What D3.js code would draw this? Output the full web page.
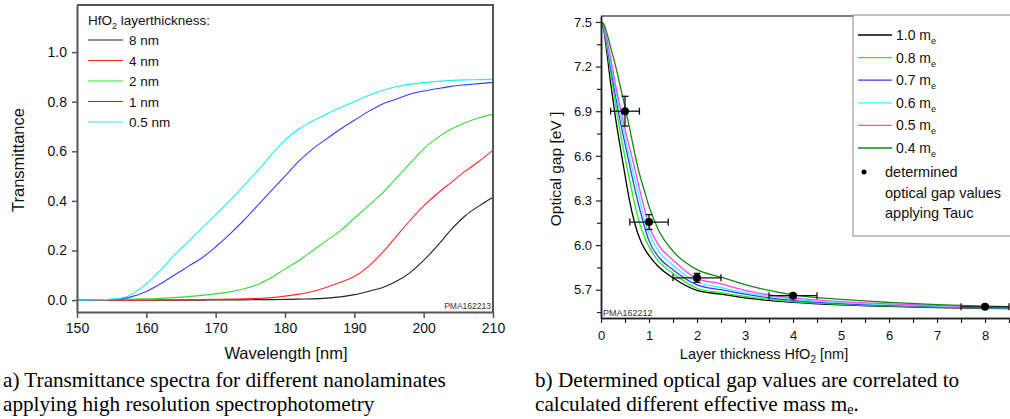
<!DOCTYPE html>
<html>
<head>
<meta charset="utf-8">
<script src="https://cdn.jsdelivr.net/npm/d3@7"></script>
<style>
  body { margin: 0; background: #fff; }
  svg { display: block; }
  .sans { font-family: "Liberation Sans", Arial, sans-serif; }
  .serif { font-family: "Liberation Serif", "Times New Roman", serif; }
</style>
</head>
<body>
<script>
// ---- left chart: transmittance spectra ----
var wavelengths = [150,152,154,156,157,158,159,160,162,164,166,168,170,172,174,176,178,180,182,184,186,188,190,192,194,196,198,200,202,204,206,208,210];
var trans8nm  = [0,0,0,0,0,0,0,0,0,0,0,0,0.001,0.001,0.001,0.002,0.002,0.003,0.004,0.005,0.008,0.013,0.022,0.035,0.05,0.075,0.11,0.16,0.22,0.285,0.34,0.38,0.415];
var trans4nm  = [0,0,0,0,0,0,0,0,0.001,0.001,0.001,0.002,0.003,0.004,0.005,0.007,0.01,0.016,0.024,0.035,0.052,0.072,0.095,0.135,0.19,0.255,0.32,0.38,0.43,0.475,0.52,0.56,0.605];
var trans2nm  = [0,0.001,0.002,0.003,0.004,0.004,0.005,0.005,0.007,0.01,0.014,0.019,0.025,0.033,0.045,0.062,0.09,0.125,0.16,0.2,0.24,0.28,0.33,0.38,0.43,0.49,0.55,0.61,0.655,0.69,0.715,0.735,0.75];
var trans1nm  = [0,0.001,0.002,0.004,0.008,0.015,0.024,0.035,0.065,0.1,0.135,0.17,0.215,0.265,0.32,0.38,0.44,0.5,0.56,0.61,0.65,0.69,0.725,0.76,0.79,0.81,0.83,0.843,0.853,0.862,0.868,0.873,0.878];
var trans05nm = [0,0.001,0.002,0.006,0.012,0.025,0.045,0.065,0.12,0.18,0.235,0.29,0.345,0.4,0.46,0.52,0.585,0.645,0.69,0.722,0.75,0.777,0.8,0.825,0.845,0.86,0.87,0.877,0.882,0.886,0.888,0.889,0.89];
var leftSeries = ["8 nm","4 nm","2 nm","1 nm","0.5 nm"];
var leftColors = ["#222222","#ff2a2a","#33dd33","#3b3bff","#22eeee"];
var leftXTicks = [150,160,170,180,190,200,210];
var leftYTicks = [0,0.2,0.4,0.6,0.8,1.0];

// ---- right chart: optical gap vs layer thickness ----
var thickness = [0,0.05,0.1,0.2,0.3,0.4,0.5,0.6,0.7,0.8,0.9,1.0,1.2,1.5,2,2.5,3,4,5,6,7,8,8.5];
var gap10 = [7.5,7.46,7.35,7.09,6.86,6.66,6.47,6.29,6.15,6.05,5.98,5.93,5.855,5.78,5.695,5.67,5.645,5.615,5.598,5.588,5.58,5.575,5.573];
var gap08 = [7.5,7.47,7.38,7.16,6.95,6.76,6.59,6.43,6.28,6.15,6.06,5.99,5.89,5.81,5.71,5.68,5.655,5.62,5.602,5.591,5.583,5.577,5.575];
var gap07 = [7.5,7.475,7.4,7.2,7.01,6.835,6.68,6.53,6.385,6.25,6.13,6.03,5.92,5.835,5.733,5.7,5.67,5.628,5.607,5.595,5.586,5.579,5.577];
var gap06 = [7.5,7.48,7.41,7.23,7.05,6.88,6.73,6.585,6.45,6.32,6.17,6.08,5.96,5.865,5.752,5.715,5.68,5.637,5.613,5.6,5.59,5.582,5.58];
var gap05 = [7.5,7.485,7.42,7.26,7.08,6.93,6.78,6.65,6.52,6.38,6.25,6.13,6.0,5.9,5.775,5.74,5.695,5.645,5.62,5.605,5.594,5.585,5.583];
var gap04 = [7.5,7.49,7.45,7.33,7.21,7.07,6.93,6.78,6.62,6.48,6.37,6.26,6.1,5.96,5.835,5.785,5.735,5.666,5.635,5.615,5.6,5.59,5.587];
var massLabels = ["1.0","0.8","0.7","0.6","0.5","0.4"];
var massColors = ["#000000","#22ee22","#3a3aff","#33ffff","#ff44ff","#118811"];
var taucX    = [0.5,1,2,4,8];
var taucY    = [6.9,6.155,5.78,5.66,5.585];
var taucXErr = [0.3,0.4,0.5,0.5,0.5];
var taucYErr = [0.1,0.05,0.03,0.012,0.01];
var rightXTicks = [0,1,2,3,4,5,6,7,8];
var rightYTicks = [5.7,6.0,6.3,6.6,6.9,7.2,7.5];

var svg = d3.select("body").append("svg")
    .attr("width", 1010)
    .attr("height", 419);

// ================= left chart =================
var x1 = d3.scaleLinear().domain([150,210]).range([77,493]);
var y1 = d3.scaleLinear().domain([-0.048,1.19]).range([312,5]);

var left = svg.append("g").attr("class","sans");

var line1 = d3.line()
    .curve(d3.curveMonotoneX)
    .x(function(d){ return x1(d[0]); })
    .y(function(d){ return y1(d[1]); });

var leftData = [trans8nm, trans4nm, trans2nm, trans1nm, trans05nm];
left.selectAll(".spec")
  .data(leftData)
  .enter().append("path")
  .attr("class","spec")
  .attr("fill","none")
  .attr("stroke-width",1.1)
  .attr("stroke", function(d,i){ return leftColors[i]; })
  .attr("d", function(d){ return line1(d.map(function(v,i){ return [wavelengths[i], v]; })); });

// frame top/right
left.append("path")
  .attr("d","M77,5H493V312")
  .attr("fill","none").attr("stroke","#555").attr("stroke-width",2);

var ax1 = left.append("g")
  .attr("transform","translate(0,312)")
  .call(d3.axisBottom(x1).tickValues(leftXTicks).tickSize(6).tickSizeOuter(0).tickPadding(5).tickFormat(d3.format("d")));
var ay1 = left.append("g")
  .attr("transform","translate(77,0)")
  .call(d3.axisLeft(y1).tickValues(leftYTicks).tickSize(5).tickSizeOuter(0).tickPadding(5).tickFormat(d3.format(".1f")));
[ax1, ay1].forEach(function(a){
  a.select(".domain").attr("stroke","#555").attr("stroke-width",2);
  a.selectAll(".tick line").attr("stroke","#555").attr("stroke-width",1.5);
  a.selectAll("text").attr("font-size",14).attr("fill","#111").attr("font-family","Liberation Sans, Arial, sans-serif");
});

left.append("text")
  .attr("transform","translate(24,160) rotate(-90)")
  .attr("text-anchor","middle").attr("font-size",16.5).attr("fill","#111")
  .text("Transmittance");
left.append("text")
  .attr("x",286).attr("y",359)
  .attr("text-anchor","middle").attr("font-size",16.5).attr("fill","#111")
  .text("Wavelength [nm]");
left.append("text")
  .attr("x",491).attr("y",309)
  .attr("text-anchor","end").attr("font-size",8.5).attr("fill","#333")
  .text("PMA162213");

// legend
var lt = left.append("text").attr("x",88).attr("y",25).attr("font-size",13.5).attr("fill","#111");
lt.append("tspan").text("HfO");
lt.append("tspan").attr("font-size",9).attr("dy",4).text("2");
lt.append("tspan").attr("dy",-4).text(" layerthickness:");

var lrow = left.selectAll(".lrow")
  .data(leftSeries)
  .enter().append("g")
  .attr("class","lrow")
  .attr("transform", function(d,i){ return "translate(0," + (40 + i*20.5) + ")"; });
lrow.append("line").attr("x1",88).attr("x2",123).attr("y1",0).attr("y2",0)
  .attr("stroke", function(d,i){ return leftColors[i]; }).attr("stroke-width",1.2);
lrow.append("text").attr("x",129).attr("y",5).attr("font-size",13.5).attr("fill","#111")
  .text(function(d){ return d; });

// ================= right chart =================
var x2 = d3.scaleLinear().domain([0,8.5]).range([601,1009]);
var y2 = d3.scaleLinear().domain([5.51,7.54]).range([318,16]);

var right = svg.append("g").attr("class","sans");

right.append("clipPath").attr("id","clip2")
  .append("rect").attr("x",601).attr("y",16).attr("width",408).attr("height",302);

var line2 = d3.line()
    .curve(d3.curveMonotoneX)
    .x(function(d){ return x2(d[0]); })
    .y(function(d){ return y2(d[1]); });

var rightData = [gap10, gap08, gap07, gap06, gap05, gap04];
right.append("g").attr("clip-path","url(#clip2)")
  .selectAll(".gap")
  .data(rightData)
  .enter().append("path")
  .attr("class","gap")
  .attr("fill","none")
  .attr("stroke-width",1.3)
  .attr("stroke", function(d,i){ return massColors[i]; })
  .attr("d", function(d){ return line2(d.map(function(v,i){ return [thickness[i], v]; })); });

// error bars and points
var pts = taucX.map(function(v,i){ return {x:v, y:taucY[i], ex:taucXErr[i], ey:taucYErr[i]}; });
var eb = right.selectAll(".eb").data(pts).enter().append("g").attr("class","eb")
  .attr("stroke","#111").attr("stroke-width",1.3);
eb.append("line")
  .attr("x1",function(d){ return x2(d.x-d.ex); }).attr("x2",function(d){ return x2(d.x+d.ex); })
  .attr("y1",function(d){ return y2(d.y); }).attr("y2",function(d){ return y2(d.y); });
eb.append("line")
  .attr("x1",function(d){ return x2(d.x-d.ex); }).attr("x2",function(d){ return x2(d.x-d.ex); })
  .attr("y1",function(d){ return y2(d.y)-3.5; }).attr("y2",function(d){ return y2(d.y)+3.5; });
eb.append("line")
  .attr("x1",function(d){ return x2(d.x+d.ex); }).attr("x2",function(d){ return x2(d.x+d.ex); })
  .attr("y1",function(d){ return y2(d.y)-3.5; }).attr("y2",function(d){ return y2(d.y)+3.5; });
eb.append("line")
  .attr("x1",function(d){ return x2(d.x); }).attr("x2",function(d){ return x2(d.x); })
  .attr("y1",function(d){ return y2(d.y+d.ey); }).attr("y2",function(d){ return y2(d.y-d.ey); });
eb.append("line")
  .attr("x1",function(d){ return x2(d.x)-3.5; }).attr("x2",function(d){ return x2(d.x)+3.5; })
  .attr("y1",function(d){ return y2(d.y+d.ey); }).attr("y2",function(d){ return y2(d.y+d.ey); });
eb.append("line")
  .attr("x1",function(d){ return x2(d.x)-3.5; }).attr("x2",function(d){ return x2(d.x)+3.5; })
  .attr("y1",function(d){ return y2(d.y-d.ey); }).attr("y2",function(d){ return y2(d.y-d.ey); });
eb.append("circle")
  .attr("cx",function(d){ return x2(d.x); }).attr("cy",function(d){ return y2(d.y); })
  .attr("r",4).attr("fill","#000").attr("stroke","none");

// top frame
right.append("path").attr("d","M601,16H853").attr("stroke","#555").attr("stroke-width",1.5).attr("fill","none");

var minorX = d3.range(0.5,8.6,1);
var minorY = [5.55,5.85,6.15,6.45,6.75,7.05,7.35];
var ax2 = right.append("g").attr("transform","translate(0,318)")
  .call(d3.axisBottom(x2).tickValues(rightXTicks).tickSize(5).tickSizeOuter(0).tickPadding(8).tickFormat(d3.format("d")));
var ax2m = right.append("g").attr("transform","translate(0,318)")
  .call(d3.axisBottom(x2).tickValues(minorX).tickSize(5).tickSizeOuter(0).tickFormat(""));
var ay2 = right.append("g").attr("transform","translate(601,0)")
  .call(d3.axisLeft(y2).tickValues(rightYTicks).tickSize(5).tickSizeOuter(0).tickPadding(4).tickFormat(d3.format(".1f")));
var ay2m = right.append("g").attr("transform","translate(601,0)")
  .call(d3.axisLeft(y2).tickValues(minorY).tickSize(4).tickSizeOuter(0).tickFormat(""));
[ax2, ax2m, ay2, ay2m].forEach(function(a){
  a.select(".domain").attr("stroke","#222").attr("stroke-width",1.5);
  a.selectAll(".tick line").attr("stroke","#222").attr("stroke-width",1.2);
  a.selectAll("text").attr("font-size",13).attr("fill","#111").attr("font-family","Liberation Sans, Arial, sans-serif");
});

right.append("text")
  .attr("x",603).attr("y",316)
  .attr("font-size",9).attr("fill","#333")
  .text("PMA162212");
right.append("text")
  .attr("transform","translate(561,169) rotate(-90)")
  .attr("text-anchor","middle").attr("font-size",15.5).attr("fill","#111")
  .text("Optical gap [eV ]");
var xl2 = right.append("text")
  .attr("x",764).attr("y",359)
  .attr("text-anchor","middle").attr("font-size",14.5).attr("fill","#111");
xl2.append("tspan").text("Layer thickness HfO");
xl2.append("tspan").attr("font-size",10).attr("dy",4).text("2");
xl2.append("tspan").attr("dy",-4).text(" [nm]");

// legend box
right.append("rect").attr("x",853).attr("y",15).attr("width",170).attr("height",221)
  .attr("fill","#fff").attr("stroke","#888").attr("stroke-width",1);
var rrow = right.selectAll(".rrow").data(massLabels).enter().append("g")
  .attr("class","rrow")
  .attr("transform", function(d,i){ return "translate(0," + (35 + i*22.6) + ")"; });
rrow.append("line").attr("x1",858).attr("x2",892).attr("y1",0).attr("y2",0)
  .attr("stroke", function(d,i){ return massColors[i]; }).attr("stroke-width",1.3);
var rt = rrow.append("text").attr("x",896).attr("y",5).attr("font-size",14).attr("fill","#111");
rt.append("tspan").text(function(d){ return d + " m"; });
rt.append("tspan").attr("font-size",9).attr("dy",4).text("e");
right.append("circle").attr("cx",864).attr("cy",172).attr("r",2.5).attr("fill","#000");
right.selectAll(".tauc").data(["determined","optical gap values","applying Tauc"]).enter().append("text")
  .attr("x",885).attr("y",function(d,i){ return 177 + i*20.5; })
  .attr("font-size",14.5).attr("fill","#111")
  .text(function(d){ return d; });

// ================= captions =================
var cap = svg.append("g").attr("class","serif").attr("font-size",21.2).attr("fill","#000");
cap.append("text").attr("x",3).attr("y",387).text("a) Transmittance spectra for different nanolaminates");
cap.append("text").attr("x",3).attr("y",411).text("applying high resolution spectrophotometry");
cap.append("text").attr("x",535).attr("y",387).text("b) Determined optical gap values are correlated to");
var c4 = cap.append("text").attr("x",535).attr("y",411);
c4.append("tspan").text("calculated different effective mass m");
c4.append("tspan").attr("font-size",14).attr("dy",3).text("e");
c4.append("tspan").attr("dy",-3).text(".");
</script>
</body>
</html>
